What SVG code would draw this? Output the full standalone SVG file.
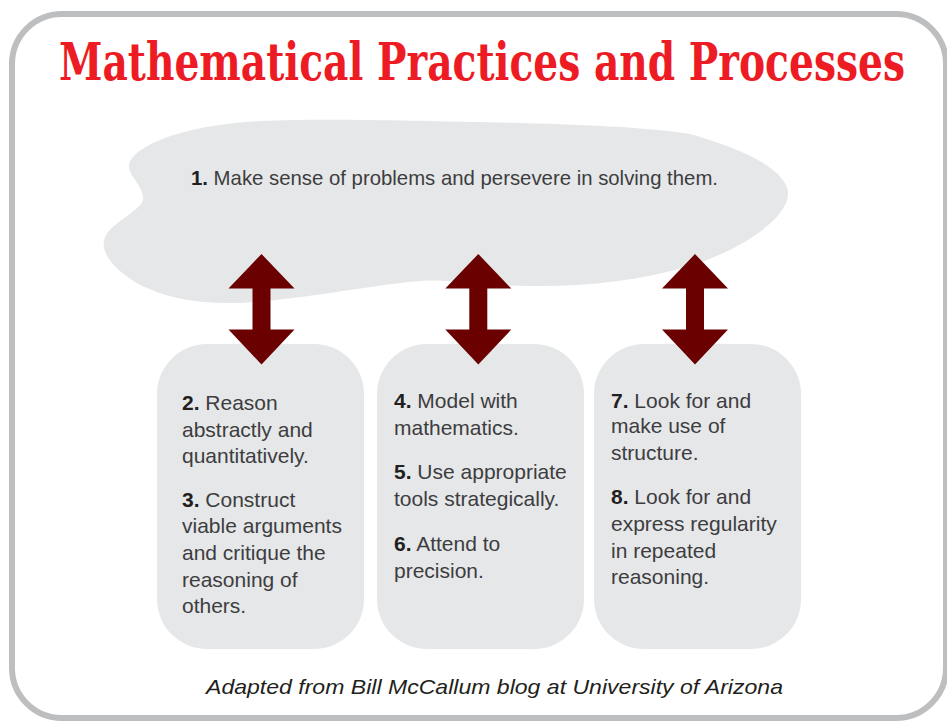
<svg xmlns="http://www.w3.org/2000/svg" width="947" height="725" viewBox="0 0 947 725">
<defs>
<style>
.frame{fill:#ffffff;stroke:#bcbec0;stroke-width:6}
.shape{fill:#e6e7e8}
.title{font-family:'DejaVu Serif Condensed','DejaVu Serif','Liberation Serif',serif;font-weight:bold;font-size:40px;fill:#ed1c24}
.txt{font-family:'Liberation Sans Narrow','Liberation Sans',Arial,sans-serif;font-size:21px;fill:#3d3d3f}
.num{font-weight:bold;fill:#231f20}
.cap{font-family:'Liberation Sans',Arial,sans-serif;font-style:italic;font-size:21px;fill:#231f20}
.arrow{fill:#6a0000}
</style>
<path id="dblarrow" d="M0,254 L33,288.5 L9,288.5 L9,329.5 L33,329.5 L0,364.5 L-33,329.5 L-9,329.5 L-9,288.5 L-33,288.5 Z"/>
</defs>
<rect width="947" height="725" fill="#ffffff"/>
<rect id="frame" class="frame" x="12" y="14" width="934" height="704" rx="50" ry="50"/>
<g id="title">
<text class="title" x="59" y="61.54" transform="scale(1,1.3)" textLength="846" lengthAdjust="spacingAndGlyphs">Mathematical Practices and Processes</text>
</g>
<g id="node-1">
<path class="shape" d="M133,157 C150,138 200,124 260,121 C330,118 420,121 480,122 C560,124 640,126 690,134 C740,148 790,170 788,195 C786,220 740,250 690,266 C640,281 580,287 530,286 C480,285 450,279 420,281 C370,285 300,300 240,303 C190,304 160,296 135,282 C110,266 96,248 108,232 C118,220 140,210 143,200 C145,188 128,175 129,166 C129,162 131,159 133,157 Z"/>
<text class="txt" x="191" y="185" font-size="22" textLength="527" lengthAdjust="spacingAndGlyphs"><tspan class="num">1.</tspan> Make sense of problems and persevere in solving them.</text>
</g>
<g id="node-2-3">
<rect class="shape" x="157" y="344" width="207" height="305" rx="50" ry="50"/>
<text class="txt" x="182" y="410"><tspan class="num">2.</tspan> Reason</text>
<text class="txt" x="182" y="436.7">abstractly and</text>
<text class="txt" x="182" y="463.3">quantitatively.</text>
<text class="txt" x="182" y="506.7"><tspan class="num">3.</tspan> Construct</text>
<text class="txt" x="182" y="533.3">viable arguments</text>
<text class="txt" x="182" y="560">and critique the</text>
<text class="txt" x="182" y="586.7">reasoning of</text>
<text class="txt" x="182" y="613.3">others.</text>
</g>
<g id="node-4-6">
<rect class="shape" x="377" y="344" width="207" height="305" rx="50" ry="50"/>
<text class="txt" x="394" y="408.3"><tspan class="num">4.</tspan> Model with</text>
<text class="txt" x="394" y="435">mathematics.</text>
<text class="txt" x="394" y="479.3"><tspan class="num">5.</tspan> Use appropriate</text>
<text class="txt" x="394" y="506">tools strategically.</text>
<text class="txt" x="394" y="551"><tspan class="num">6.</tspan> Attend to</text>
<text class="txt" x="394" y="577.7">precision.</text>
</g>
<g id="node-7-8">
<rect class="shape" x="594" y="344" width="207" height="305" rx="50" ry="50"/>
<text class="txt" x="611" y="407.7"><tspan class="num">7.</tspan> Look for and</text>
<text class="txt" x="611" y="433.3">make use of</text>
<text class="txt" x="611" y="460">structure.</text>
<text class="txt" x="611" y="504.3"><tspan class="num">8.</tspan> Look for and</text>
<text class="txt" x="611" y="531">express regularity</text>
<text class="txt" x="611" y="557.7">in repeated</text>
<text class="txt" x="611" y="584.3">reasoning.</text>
</g>
<g id="connectors">
<use href="#dblarrow" class="arrow" x="261.5" y="0"/>
<use href="#dblarrow" class="arrow" x="478.3" y="0"/>
<use href="#dblarrow" class="arrow" x="695" y="0"/>
</g>
<g id="caption">
<text class="cap" x="206" y="694" textLength="577" lengthAdjust="spacingAndGlyphs">Adapted from Bill McCallum blog at University of Arizona</text>
</g>
</svg>
